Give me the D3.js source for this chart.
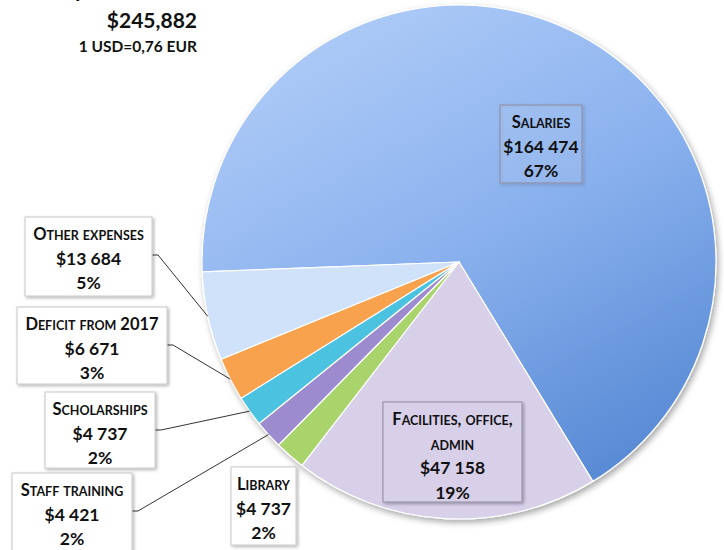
<!DOCTYPE html>
<html>
<head>
<meta charset="utf-8">
<script src="https://cdn.jsdelivr.net/npm/d3@7"></script>
<style>
    body { margin: 0; background: #fff; }
    text { font-family: Lato, "Open Sans", sans-serif; font-weight: 700; fill: #111; }
</style>
</head>
<body>
<div id="chart"></div>
<script>
// data
const categories = ["Salaries", "Facilities, office, admin", "Library", "Staff training",
    "Scholarships", "Deficit from 2017", "Other expenses"];
const values = [164474, 47158, 4737, 4421, 4737, 6671, 13684];
const percentLabels = ["67%", "19%", "2%", "2%", "2%", "3%", "5%"];
const titleLabel = "Total expenditure";
const totalLabel = "$245,882";
const rateLabel = "1 USD=0,76 EUR";

// styles
const colors = ["url(#gSal)", "#d8cfe9", "#a9d46c", "#9d8bd0", "#4cc2e0", "#f8a24e", "#cfe2fa"];

// label boxes (layout only)
const boxes = {
    "Salaries":                 {x: 500, y: 105, w: 82,  h: 78,  lines: ["Salaries"], fill: "#ffffff", op: 0.08, leader: false},
    "Facilities, office, admin":{x: 383, y: 402, w: 139, h: 100, lines: ["Facilities, office,", "admin"], fill: "#d8cfe9", op: 1, leader: false},
    "Library":                  {x: 231, y: 467, w: 65,  h: 78,  lines: ["Library"], fill: "#fff", op: 1, leader: false},
    "Staff training":           {x: 12,  y: 473, w: 120, h: 80,  lines: ["Staff training"], fill: "#fff", op: 1, leader: true},
    "Scholarships":             {x: 45,  y: 392, w: 110, h: 76,  lines: ["Scholarships"], fill: "#fff", op: 1, leader: true},
    "Deficit from 2017":        {x: 17,  y: 307, w: 150, h: 77,  lines: ["Deficit from 2017"], fill: "#fff", op: 1, leader: true},
    "Other expenses":           {x: 25,  y: 217, w: 127, h: 79,  lines: ["Other expenses"], fill: "#fff", op: 1, leader: true}
};

const width = 724, height = 550;
const cx = 459, cy = 262, radius = 257;

const money = d3.formatLocale({decimal: ",", thousands: "\u00a0", grouping: [3], currency: ["$", ""]}).format("$,d");

const svg = d3.select("#chart").append("svg")
    .attr("width", width)
    .attr("height", height);

const defs = svg.append("defs");
// gradient coords are in the pie group's space (origin at the centre)
const gSal = defs.append("linearGradient").attr("id", "gSal")
    .attr("gradientUnits", "userSpaceOnUse")
    .attr("x1", -110).attr("y1", -radius).attr("x2", 170).attr("y2", radius);
gSal.append("stop").attr("offset", 0).attr("stop-color", "#aecbf7");
gSal.append("stop").attr("offset", 0.45).attr("stop-color", "#8ab1ee");
gSal.append("stop").attr("offset", 1).attr("stop-color", "#4f83d0");

const sh = defs.append("filter").attr("id", "shadow").attr("x", "-10%").attr("y", "-10%").attr("width", "130%").attr("height", "130%");
sh.append("feDropShadow").attr("dx", 2).attr("dy", 3).attr("stdDeviation", 3).attr("flood-opacity", 0.35);
const sh2 = defs.append("filter").attr("id", "boxShadow").attr("x", "-20%").attr("y", "-20%").attr("width", "150%").attr("height", "150%");
sh2.append("feDropShadow").attr("dx", 1.5).attr("dy", 1.5).attr("stdDeviation", 1.5).attr("flood-opacity", 0.3);

const rows = categories.map((c, i) => ({name: c, value: values[i], pct: percentLabels[i], color: colors[i]}));

const pie = d3.pie()
    .sort(null)
    .value(d => d.value)
    .startAngle(-92.2 * Math.PI / 180)
    .endAngle(-92.2 * Math.PI / 180 + 2 * Math.PI);

const arcs = pie(rows);
const arc = d3.arc().innerRadius(0).outerRadius(radius);
const rim = d3.arc().innerRadius(radius).outerRadius(radius);

const g = svg.append("g").attr("transform", `translate(${cx},${cy})`);

g.append("g")
    .attr("filter", "url(#shadow)")
    .selectAll("path")
    .data(arcs)
    .join("path")
    .attr("d", arc)
    .attr("fill", d => d.data.color)
    .attr("stroke", "#fff")
    .attr("stroke-width", 1.2)
    .attr("stroke-linejoin", "round");

// leader lines
const leaders = svg.append("g")
    .attr("fill", "none")
    .attr("stroke", "#333")
    .attr("stroke-width", 1);

arcs.filter(d => boxes[d.data.name].leader).forEach(d => {
    const b = boxes[d.data.name];
    const p = rim.centroid(d);
    const y0 = b.y + 38;
    leaders.append("polyline")
        .attr("points", [[b.x + b.w, y0], [b.x + b.w + 6, y0], [cx + p[0], cy + p[1]]].join(" "));
});

// small caps by hand: capitals and digits big, lower case as small capitals
function smallCaps(sel, str) {
    const parts = [];
    for (const ch of str) {
        const big = !(ch >= "a" && ch <= "z");
        if (parts.length && parts[parts.length - 1].big === big) parts[parts.length - 1].s += ch;
        else parts.push({big, s: ch});
    }
    parts.forEach(p => {
        sel.append("tspan")
            .attr("font-size", p.big ? 16.5 : 12.5)
            .text(p.big ? p.s : p.s.toUpperCase());
    });
}

// label boxes
const lab = svg.append("g")
    .selectAll("g")
    .data(arcs)
    .join("g");

lab.append("rect")
    .attr("x", d => boxes[d.data.name].x)
    .attr("y", d => boxes[d.data.name].y)
    .attr("width", d => boxes[d.data.name].w)
    .attr("height", d => boxes[d.data.name].h)
    .attr("fill", d => boxes[d.data.name].fill)
    .attr("fill-opacity", d => boxes[d.data.name].op)
    .attr("stroke", d => boxes[d.data.name].leader || d.data.name === "Library" ? "#c8c8c8" : "#8f8ca0")
    .attr("stroke-width", 1)
    .attr("filter", "url(#boxShadow)");

lab.each(function (d) {
    const b = boxes[d.data.name];
    const sel = d3.select(this);
    const mid = b.x + b.w / 2;
    let y = b.y + 23;
    b.lines.forEach(line => {
        const t = sel.append("text")
            .attr("x", mid).attr("y", y)
            .attr("text-anchor", "middle");
        smallCaps(t, line);
        y += 24.5;
    });
    sel.append("text")
        .attr("x", mid).attr("y", y)
        .attr("text-anchor", "middle")
        .attr("font-size", 17.5)
        .text(money(d.data.value));
    y += 24.5;
    sel.append("text")
        .attr("x", mid).attr("y", y)
        .attr("text-anchor", "middle")
        .attr("font-size", 17.5)
        .text(d.data.pct);
});

// title block (top is cut off in the reference)
svg.append("text")
    .attr("x", 170).attr("y", -3)
    .attr("text-anchor", "end")
    .attr("font-size", 22)
    .text(titleLabel);
svg.append("text")
    .attr("x", 197).attr("y", 28)
    .attr("text-anchor", "end")
    .attr("font-size", 21)
    .text(totalLabel);
svg.append("text")
    .attr("x", 197).attr("y", 52)
    .attr("text-anchor", "end")
    .attr("font-size", 15.5)
    .text(rateLabel);
</script>
</body>
</html>
